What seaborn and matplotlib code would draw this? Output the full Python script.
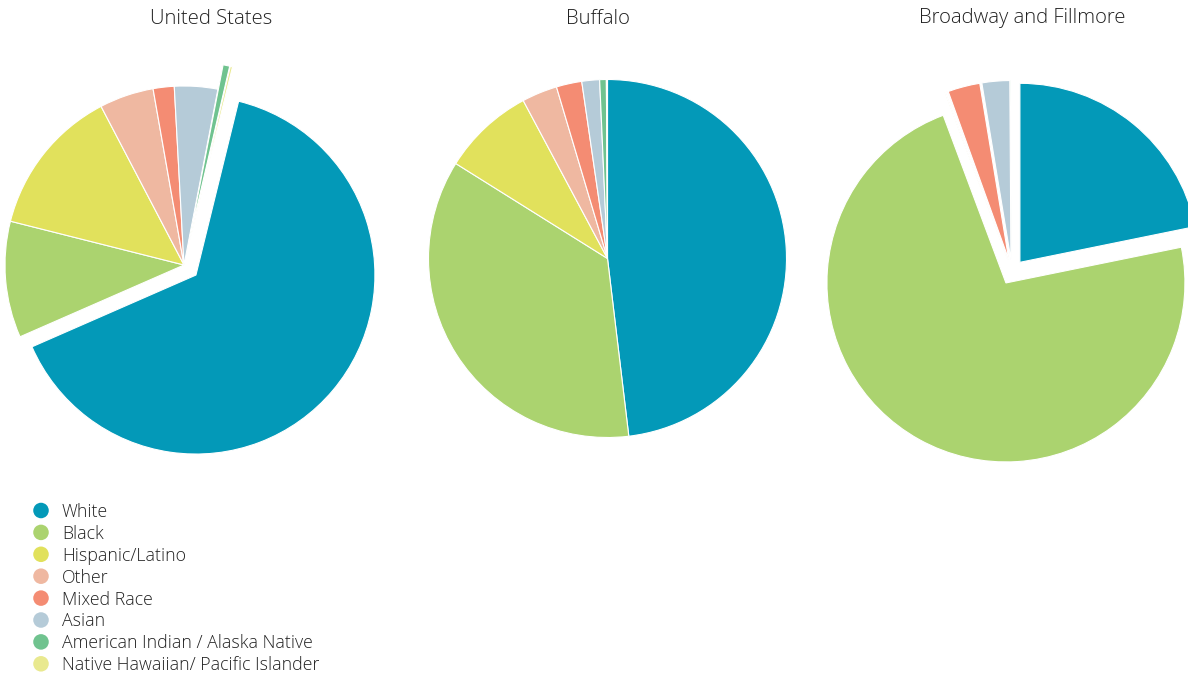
import matplotlib
matplotlib.use("Agg")
import matplotlib.pyplot as plt
import seaborn as sns

# Population share (%) by race / ethnicity
categories = [
    "White",
    "Black",
    "Hispanic/Latino",
    "Other",
    "Mixed Race",
    "Asian",
    "American Indian / Alaska Native",
    "Native Hawaiian/ Pacific Islander",
]
places = ["United States", "Buffalo", "Broadway and Fillmore"]
us_share = [64.6, 10.5, 13.4, 4.9, 1.9, 3.9, 0.6, 0.2]
buffalo_share = [48.1, 35.8, 8.3, 3.2, 2.3, 1.6, 0.6, 0.1]
broadway_share = [21.8, 72.5, 0.1, 0.1, 2.9, 2.5, 0.1, 0.0]

sns.set_theme(style="white")
plt.rcParams["font.family"] = ["Open Sans", "DejaVu Sans"]

palette = sns.color_palette([
    "#0399b8", "#abd36f", "#e1e15c", "#efb8a1",
    "#f48c73", "#b5cbd8", "#70c38f", "#e9e98f",
])

W, H = 1188, 676
fig = plt.figure(figsize=(W / 100, H / 100), dpi=100)
ax = fig.add_axes([0, 0, 1, 1])

R = 179  # pie radius in pixels; explode offsets are in pixels too
layout = [
    # center (px), first-slice bearing (deg clockwise from top), explode, title x
    dict(center=(184, 265), start=13.8,
         explode=[15.6, 0, 0, 0, 0, 0, 25, 25], title_x=211),
    dict(center=(607.5, 258.5), start=0.0,
         explode=[0] * 8, title_x=598),
    dict(center=(1012, 272), start=0.0,
         explode=[12.5] * 8, title_x=1022),
]
shares = [us_share, buffalo_share, broadway_share]

for name, vals, cfg in zip(places, shares, layout):
    cx, cy = cfg["center"]
    ax.pie(
        vals,
        colors=palette,
        radius=R,
        center=(cx, H - cy),
        startangle=90 - cfg["start"],
        counterclock=False,
        explode=cfg["explode"],
        wedgeprops=dict(edgecolor="white", linewidth=0.8),
        frame=True,
    )
    ax.text(cfg["title_x"], H - 18.5, name, ha="center", va="center",
            fontsize=14.6, color="#222222", fontweight="light")

# legend
for i, (cat, col) in enumerate(zip(categories, palette)):
    y = H - (510.5 + i * 21.9)
    ax.scatter([41], [y], s=125, color=col, edgecolors="none")
    ax.text(62, y - 1.5, cat, ha="left", va="center", fontsize=12.8,
            color="#222222", fontweight="light")

ax.set_xlim(0, W)
ax.set_ylim(0, H)
ax.set_aspect("equal", adjustable="box")
ax.axis("off")

fig.savefig("out.png", dpi=100, facecolor="white")
